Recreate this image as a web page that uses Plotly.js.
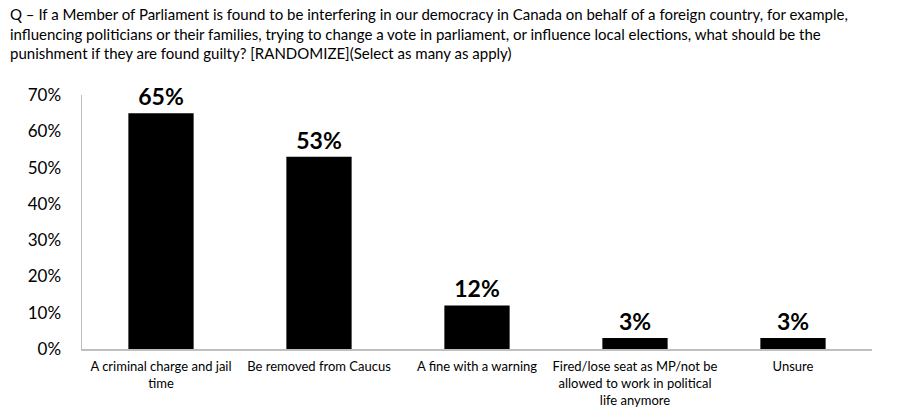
<!DOCTYPE html>
<html>
<head>
<meta charset="utf-8">
<script src="https://cdn.plot.ly/plotly-3.0.1.min.js"></script>
<style>html,body{margin:0;padding:0;background:#fff;}#chart{width:900px;height:417px;}</style>
</head>
<body>
<div id="chart"></div>
<script>
const categories = [
  "A criminal charge and jail<br>time",
  "Be removed from Caucus",
  "A fine with a warning",
  "Fired/lose seat as MP/not be<br>allowed to work in political<br>life anymore",
  "Unsure"
];
const values = [65, 53, 12, 3, 3];
const yTicks = [0, 10, 20, 30, 40, 50, 60, 70];
const titleText = "Q – If a Member of Parliament is found to be interfering in our democracy in Canada on behalf of a foreign country, for example,<br>influencing politicians or their families, trying to change a vote in parliament, or influence local elections, what should be the<br>punishment if they are found guilty? [RANDOMIZE](Select as many as apply)";

const FONT = "Lato, 'Liberation Sans', sans-serif";
const M = {l: 82, r: 28, t: 95, b: 68};
const W = 900, H = 417;
const plotW = W - M.l - M.r, plotH = H - M.t - M.b;

const trace = {
  type: 'bar',
  x: categories,
  y: values,
  marker: {color: '#000000', line: {width: 0}},
  text: values.map(v => v + '%'),
  textposition: 'outside',
  textfont: {family: FONT, size: 23, color: '#000', weight: 'bold'},
  cliponaxis: false,
  hoverinfo: 'none'
};

const layout = {
  width: W, height: H,
  margin: M,
  paper_bgcolor: '#fff', plot_bgcolor: '#fff',
  bargap: 0.587,
  showlegend: false,
  font: {family: FONT, color: '#000'},
  annotations: [{
    text: titleText,
    xref: 'paper', yref: 'paper',
    x: (8 - M.l) / plotW, xanchor: 'left',
    y: (H - M.b - 3) / plotH, yanchor: 'top',
    align: 'left', showarrow: false,
    font: {family: FONT, size: 15, color: '#000'}
  }],
  xaxis: {
    showgrid: false, zeroline: false,
    showline: true, linecolor: '#bfbfbf', linewidth: 1.5,
    ticks: '', tickfont: {family: FONT, size: 13, color: '#000'},
    ticklabelstandoff: 5
  },
  yaxis: {
    range: [0, 70], tickvals: yTicks, ticktext: yTicks.map(v => v + '%'),
    showgrid: false, zeroline: false,
    showline: true, linecolor: '#bfbfbf', linewidth: 1.5,
    ticks: '', tickfont: {family: FONT, size: 17, color: '#000'},
    ticklabelstandoff: 16
  }
};

Plotly.newPlot('chart', [trace], layout, {displayModeBar: false, staticPlot: true});
</script>
</body>
</html>
